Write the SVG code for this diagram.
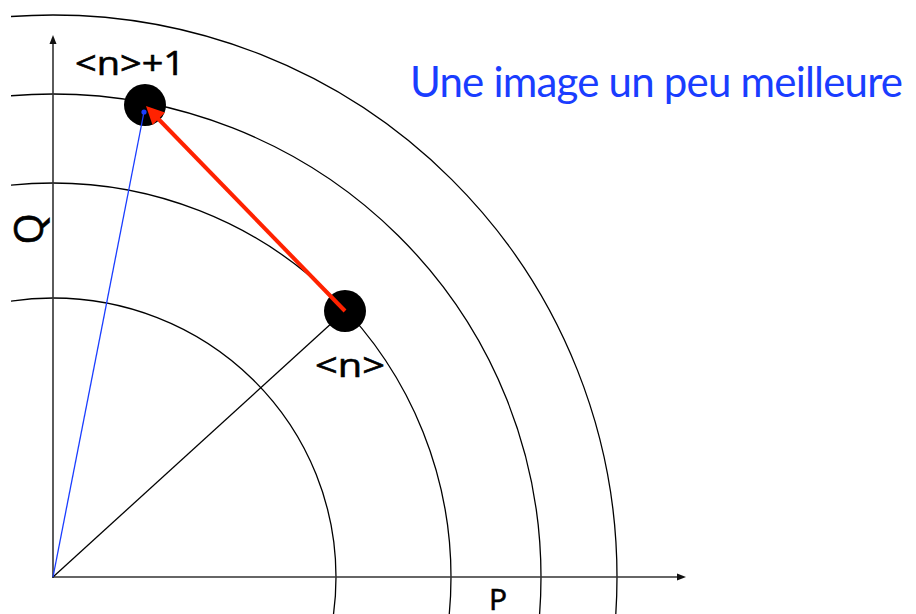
<svg xmlns="http://www.w3.org/2000/svg" width="916" height="614" viewBox="0 0 916 614">
<style>
.arc{fill:none;stroke:#000;stroke-width:1.3}
.axis{stroke:#333;stroke-width:1.6;fill:none}
.lbl{font-family:"Open Sans","Liberation Sans",sans-serif;fill:#000;stroke:#000;stroke-width:0.6}
.title{font-family:Lato,"Open Sans","Liberation Sans",sans-serif;fill:#1a3dff}
.dot{fill:#000}
</style>
<defs>
<clipPath id="clip"><rect x="11" y="0" width="905" height="614"/></clipPath>
</defs>
<rect width="916" height="614" fill="#fff"/>
<g id="arcs" clip-path="url(#clip)">
<ellipse class="arc" cx="53" cy="577" rx="283" ry="279"/>
<ellipse class="arc" cx="53" cy="577" rx="398" ry="394"/>
<ellipse class="arc" cx="53" cy="577" rx="488" ry="483"/>
<ellipse class="arc" cx="53" cy="577" rx="564" ry="562"/>
</g>
<g id="axes">
<line class="axis" x1="53" y1="578" x2="53" y2="42"/>
<polygon points="53,35 49.5,44 56.5,44" fill="#111"/>
<line class="axis" x1="52" y1="577" x2="679" y2="577"/>
<polygon points="686,577 677,573.5 677,580.5" fill="#111"/>
<text class="lbl" font-size="30" x="489" y="610">P</text>
<text class="lbl" font-size="40" transform="translate(43,229) rotate(-90)" text-anchor="middle">Q</text>
</g>
<g id="connectors-under">
<line x1="53" y1="577" x2="345" y2="311" stroke="#000" stroke-width="1.3"/>
</g>
<g id="node-n">
<circle class="dot" cx="345" cy="311" r="21"/>
<text class="lbl" font-size="33" x="315" y="377" textLength="70" lengthAdjust="spacingAndGlyphs">&lt;n&gt;</text>
</g>
<g id="node-n1">
<circle class="dot" cx="145" cy="105" r="21"/>
<text class="lbl" font-size="33" x="75" y="75" textLength="110" lengthAdjust="spacingAndGlyphs">&lt;n&gt;+1</text>
</g>
<g id="connectors">
<line x1="53" y1="577" x2="144" y2="112" stroke="#1a3dff" stroke-width="1.3"/>
<circle cx="144" cy="112" r="2.6" fill="#1a3dff"/>
<line x1="345" y1="311" x2="156" y2="116.5" stroke="#ff2200" stroke-width="4"/>
<polygon points="146,106 165,112.5 152.5,125" fill="#ff2200"/>
</g>
<g id="title">
<text class="title" font-size="42" x="410" y="97" textLength="493">Une image un peu meilleure</text>
</g>
</svg>
